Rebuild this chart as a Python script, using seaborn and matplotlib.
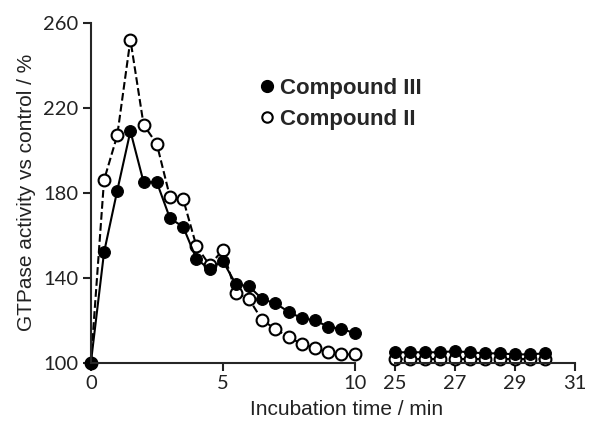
import numpy as np
import pandas as pd
import seaborn as sns
import matplotlib.pyplot as plt
from matplotlib.lines import Line2D

# early time course, 0-10 min every 0.5 min
time_early = np.arange(0, 10.5, 0.5)
comp3_early = [100, 152, 181, 209, 185, 185, 168, 164, 149, 144, 148,
               137, 136, 130, 128, 124, 121, 120, 117, 116, 114]
comp2_early = [100, 186, 207, 252, 212, 203, 178, 177, 155, 146, 153,
               133, 130, 120, 116, 112, 109, 107, 105, 104, 104]

# late time course, 25-30 min
time_late = np.arange(25, 30.5, 0.5)
comp3_late = [105, 105, 105, 105, 105.5, 105, 104.5, 104.5, 104, 104, 104.5]
comp2_late = [102, 102, 102, 102, 102, 102, 102, 102, 102, 102, 102]

sns.set_style("ticks")
plt.rcParams['font.family'] = ['Lato', 'DejaVu Sans']

fig = plt.figure(figsize=(5.9, 4.21), dpi=100)
ax1 = fig.add_axes([0.154, 0.138, 0.447, 0.808])
ax2 = fig.add_axes([0.669, 0.138, 0.305, 0.808])

def draw(ax, t, y2, y3):
    sns.lineplot(x=t, y=y2, ax=ax, color='black', lw=1.5, linestyle='--',
                 marker='o', markersize=8.5, markerfacecolor='white',
                 markeredgecolor='black', markeredgewidth=1.5, clip_on=False)
    sns.lineplot(x=t, y=y3, ax=ax, color='black', lw=1.5,
                 marker='o', markersize=8.5, markerfacecolor='black',
                 markeredgecolor='black', clip_on=False)

draw(ax1, time_early, comp2_early, comp3_early)
draw(ax2, time_late, comp2_late, comp3_late)

for ax in (ax1, ax2):
    ax.set_ylim(100, 260)
    ax.patch.set_alpha(0)
    sns.despine(ax=ax)
    ax.spines['bottom'].set_linewidth(1.5)
    ax.spines['left'].set_linewidth(1.5)
    ax.tick_params(width=1.5, length=6, labelsize=14.5, colors='#222222',
                   direction='out', pad=3)

ax1.set_xlim(0, 10)
ax1.set_xticks([0, 5, 10])
ax1.set_yticks([100, 140, 180, 220, 260])
ax1.set_ylabel('GTPase activity vs control / %', fontsize=15, color='#222222',
               family='Liberation Sans', labelpad=5)

ax2.set_xlim(25, 31)
ax2.set_xticks([25, 27, 29, 31])
ax2.spines['left'].set_visible(False)
ax2.set_yticks([])

fig.text(0.587, 0.027, 'Incubation time / min', ha='center', va='center',
         fontsize=15, color='#222222', family='Liberation Sans')

handles = [Line2D([], [], color='black', marker='o', linestyle='none',
                  markersize=8.5, label='Compound III'),
           Line2D([], [], color='black', marker='o', markerfacecolor='white',
                  markeredgewidth=1.5, linestyle='none', markersize=7.5,
                  label='Compound II')]
fig.legend(handles=handles, loc='center left', bbox_to_anchor=(0.4, 0.754),
           frameon=False, handletextpad=0.1, labelspacing=0.45,
           handlelength=1.0,
           prop={'family': 'Liberation Sans', 'weight': 'bold', 'size': 16})

fig.savefig('out.png', dpi=100)
